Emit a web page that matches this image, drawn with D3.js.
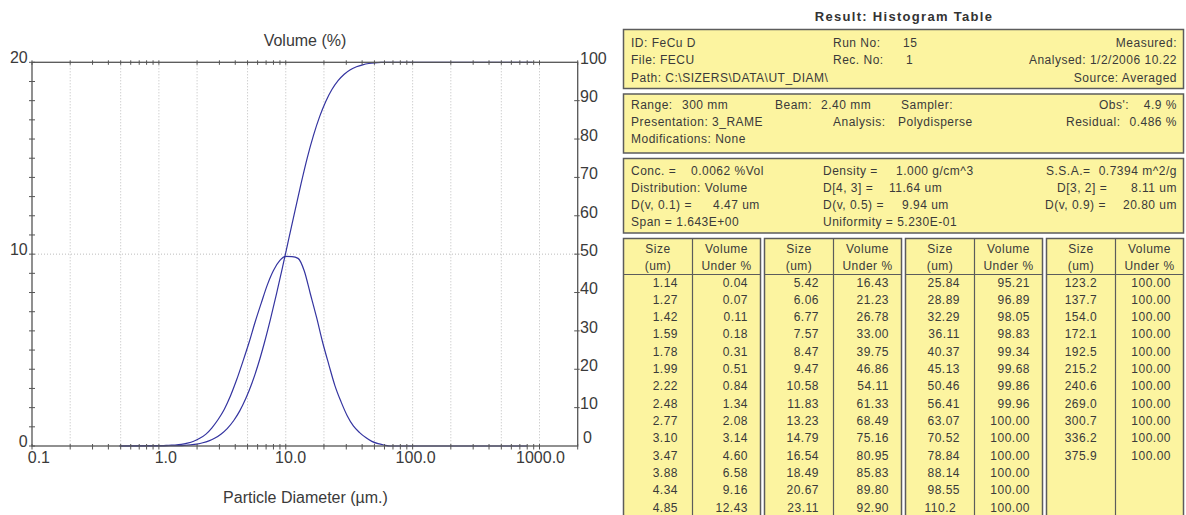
<!DOCTYPE html>
<html>
<head>
<meta charset="utf-8">
<script src="https://cdn.jsdelivr.net/npm/d3@7"></script>
<style>
  body { margin: 0; background: #fff; }
  svg { display: block; }
  text { white-space: pre; }
</style>
</head>
<body>
<script>
/* Particle size distribution + histogram table */

// --- Data ---
// table: size (um) and cumulative volume under %
const sizes = [1.14, 1.27, 1.42, 1.59, 1.78, 1.99, 2.22, 2.48, 2.77, 3.10, 3.47, 3.88, 4.34, 4.85,
  5.42, 6.06, 6.77, 7.57, 8.47, 9.47, 10.58, 11.83, 13.23, 14.79, 16.54, 18.49, 20.67, 23.11,
  25.84, 28.89, 32.29, 36.11, 40.37, 45.13, 50.46, 56.41, 63.07, 70.52, 78.84, 88.14, 98.55, 110.2,
  123.2, 137.7, 154.0, 172.1, 192.5, 215.2, 240.6, 269.0, 300.7, 336.2, 375.9];
const volumeUnder = [0.04, 0.07, 0.11, 0.18, 0.31, 0.51, 0.84, 1.34, 2.08, 3.14, 4.60, 6.58, 9.16, 12.43,
  16.43, 21.23, 26.78, 33.00, 39.75, 46.86, 54.11, 61.33, 68.49, 75.16, 80.95, 85.83, 89.80, 92.90,
  95.21, 96.89, 98.05, 98.83, 99.34, 99.68, 99.86, 99.96, 100, 100, 100, 100, 100, 100,
  100, 100, 100, 100, 100, 100, 100, 100, 100, 100, 100];
// where the plotted cumulative line starts (0 %) and ends (100 %)
const cumEnds = [0.49, 880];

// volume % curve (left axis)
const densitySizes = [0.49, 1.06, 1.20, 1.34, 1.50, 1.68, 1.88, 2.10, 2.35, 2.62, 2.93, 3.28, 3.67, 4.10,
  4.59, 5.13, 5.73, 6.41, 7.16, 8.00, 8.96, 10.0, 11.2, 12.5, 14.0, 15.6, 17.5, 19.5, 21.9, 24.4,
  27.3, 30.5, 34.1, 38.2, 42.7, 47.7, 53.4, 59.6, 66.7, 800];
const densityValues = [0, 0.02, 0.04, 0.05, 0.08, 0.15, 0.25, 0.40, 0.62, 0.95, 1.38, 1.92, 2.62, 3.45,
  4.40, 5.38, 6.45, 7.45, 8.40, 9.15, 9.66, 9.88, 9.87, 9.78, 9.12, 7.95, 6.70, 5.42, 4.22, 3.15,
  2.30, 1.58, 1.05, 0.70, 0.44, 0.24, 0.12, 0.05, 0, 0];

const xLabels = [0.1, 1, 10, 100, 1000];
const xGrid = [0.2, 0.5, 1, 2, 5, 10, 20, 50, 100, 200, 500, 1000];
const leftLabels = [0, 10, 20];
const rightLabels = [0, 10, 20, 30, 40, 50, 60, 70, 80, 90, 100];

// info boxes: [text, x, y, anchor]
const infoBoxes = [
  { y0: 29.5, y1: 88.5, items: [
    ["ID: FeCu D", 631, 46.5], ["Run No:", 833, 46.5], ["15", 903, 46.5], ["Measured:", 1177, 46.5, "end"],
    ["File: FECU", 631, 64], ["Rec. No:", 833, 64], ["1", 906, 64], ["Analysed: 1/2/2006 10.22", 1177, 64, "end"],
    ["Path: C:\\SIZERS\\DATA\\UT_DIAM\\", 631, 81.5], ["Source: Averaged", 1177, 81.5, "end"]] },
  { y0: 94, y1: 153, items: [
    ["Range:", 631, 108.5], ["300 mm", 682, 108.5], ["Beam:", 775, 108.5], ["2.40 mm", 821, 108.5],
    ["Sampler:", 901, 108.5], ["Obs':", 1099, 108.5], ["4.9 %", 1177, 108.5, "end"],
    ["Presentation: 3_RAME", 631, 125.5], ["Analysis:", 833, 125.5], ["Polydisperse", 898, 125.5],
    ["Residual:", 1066, 125.5], ["0.486 %", 1177, 125.5, "end"],
    ["Modifications: None", 631, 143]] },
  { y0: 158.5, y1: 233, items: [
    ["Conc. =", 631, 175], ["0.0062 %Vol", 691, 175], ["Density =", 823, 175], ["1.000 g/cm^3", 896, 175],
    ["S.S.A.=", 1046, 175], ["0.7394 m^2/g", 1177, 175, "end"],
    ["Distribution: Volume", 631, 192], ["D[4, 3] =", 823, 192], ["11.64 um", 889, 192],
    ["D[3, 2] =", 1057, 192], ["8.11 um", 1177, 192, "end"],
    ["D(v, 0.1) =", 631, 209], ["4.47 um", 713, 209], ["D(v, 0.5) =", 823, 209], ["9.94 um", 902, 209],
    ["D(v, 0.9) =", 1045, 209], ["20.80 um", 1177, 209, "end"],
    ["Span = 1.643E+00", 631, 226], ["Uniformity = 5.230E-01", 823, 226]] }
];

// --- Setup ---
const W = 1186, H = 515;
const FONT = "'Liberation Sans', Arial, sans-serif";
const INK = "#3a3a3a";
const svg = d3.select("body").append("svg")
  .attr("width", W).attr("height", H)
  .style("font-family", FONT);
svg.append("rect").attr("width", W).attr("height", H).attr("fill", "#fff");

// --- Chart ---
const plot = { left: 32, top: 62.3, right: 577.7, bottom: 446 };
const x = d3.scaleLog().domain([0.1, 2000]).range([plot.left, plot.right]);
const yL = d3.scaleLinear().domain([0, 20]).range([plot.bottom, plot.top]);
const yR = d3.scaleLinear().domain([0, 100]).range([plot.bottom, plot.top]);

const chart = svg.append("g");

// dotted grid
chart.append("g").selectAll("line").data(xGrid).join("line")
  .attr("x1", (d) => x(d)).attr("x2", (d) => x(d))
  .attr("y1", plot.top).attr("y2", plot.bottom)
  .attr("stroke", "#bcbcbc").attr("stroke-dasharray", "1,2");
chart.append("line")
  .attr("x1", plot.left).attr("x2", plot.right)
  .attr("y1", yL(10)).attr("y2", yL(10))
  .attr("stroke", "#bcbcbc").attr("stroke-dasharray", "1,2");

// curves
const cumData = [[cumEnds[0], 0]].concat(sizes.map((s, i) => [s, volumeUnder[i]]), [[cumEnds[1], 100]]);
const denData = densitySizes.map((s, i) => [s, densityValues[i]]);

const lineR = d3.line().x((d) => x(d[0])).y((d) => yR(d[1])).curve(d3.curveMonotoneX);
const lineL = d3.line().x((d) => x(d[0])).y((d) => yL(d[1])).curve(d3.curveMonotoneX);

chart.append("path").datum(denData).attr("d", lineL)
  .attr("fill", "none").attr("stroke", "#3434a0").attr("stroke-width", 1.2);
chart.append("path").datum(cumData).attr("d", lineR)
  .attr("fill", "none").attr("stroke", "#3434a0").attr("stroke-width", 1.2);

// frame
const AX = "#555";
chart.append("rect")
  .attr("x", plot.left).attr("y", plot.top)
  .attr("width", plot.right - plot.left).attr("height", plot.bottom - plot.top)
  .attr("fill", "none").attr("stroke", AX).attr("stroke-width", 1.3);

// log ticks on top and bottom
const logTicks = x.ticks();
chart.append("g").selectAll("line").data(logTicks).join("line")
  .attr("x1", (d) => x(d)).attr("x2", (d) => x(d))
  .attr("y1", plot.top - 2).attr("y2", plot.top + 2.5)
  .attr("stroke", AX);
chart.append("g").selectAll("line").data(logTicks).join("line")
  .attr("x1", (d) => x(d)).attr("x2", (d) => x(d))
  .attr("y1", plot.bottom - 2).attr("y2", plot.bottom + 3.5)
  .attr("stroke", AX);

// left ticks every unit
chart.append("g").selectAll("line").data(yL.ticks(20)).join("line")
  .attr("x1", plot.left - 3).attr("x2", plot.left + 3)
  .attr("y1", (d) => yL(d)).attr("y2", (d) => yL(d))
  .attr("stroke", AX);

// right ticks every 10
chart.append("g").selectAll("line").data(rightLabels.slice(1, -1)).join("line")
  .attr("x1", plot.right - 3.5).attr("x2", plot.right + 2)
  .attr("y1", (d) => yR(d)).attr("y2", (d) => yR(d))
  .attr("stroke", AX);

// labels
const fmtX = d3.format(".1f");
chart.append("g").selectAll("text").data(xLabels).join("text")
  .attr("x", (d) => x(d) + 18 + (fmtX(d).length - 3) * 2.5)
  .attr("y", 463)
  .attr("text-anchor", "end")
  .attr("font-size", 16).attr("fill", INK)
  .text((d) => fmtX(d));

chart.append("g").selectAll("text").data(leftLabels).join("text")
  .attr("x", 27.7).attr("y", (d) => yL(d) + 0.5)
  .attr("text-anchor", "end")
  .attr("font-size", 16).attr("fill", INK)
  .text((d) => d);

chart.append("g").selectAll("text").data(rightLabels).join("text")
  .attr("x", (d) => d === 0 ? 583 : 580)
  .attr("y", (d) => Math.min(yR(d) + 1.8, 442.7))
  .attr("font-size", 16).attr("fill", INK)
  .text((d) => d);

chart.append("text").attr("x", 305).attr("y", 46)
  .attr("text-anchor", "middle").attr("font-size", 16).attr("fill", INK)
  .text("Volume (%)");
chart.append("text").attr("x", 305.5).attr("y", 503)
  .attr("text-anchor", "middle").attr("font-size", 16).attr("fill", INK)
  .text("Particle Diameter (\u00b5m.)");

// --- Result table ---
const YEL = "#fcf4a0", EDGE = "#5c5c5c";
const tbl = svg.append("g").attr("font-size", 12).attr("letter-spacing", 0.5).attr("fill", INK);

svg.append("text").attr("x", 904).attr("y", 20.5)
  .attr("text-anchor", "middle")
  .attr("font-size", 13).attr("font-weight", "bold").attr("letter-spacing", 1.3)
  .attr("fill", "#333")
  .text("Result: Histogram Table");

const boxL = 623.5, boxR = 1183.5;
infoBoxes.forEach((b) => {
  tbl.append("rect").attr("x", boxL).attr("y", b.y0)
    .attr("width", boxR - boxL).attr("height", b.y1 - b.y0)
    .attr("fill", YEL).attr("stroke", EDGE).attr("stroke-width", 1.5);
  b.items.forEach((it) => {
    tbl.append("text").attr("x", it[1]).attr("y", it[2])
      .attr("text-anchor", it[3] || "start")
      .text(it[0]);
  });
});

// histogram columns: 4 groups of 14 rows
const ROWS = 14, groupW = 137, gap = 4, splitAt = 69;
const gTop = 238.5, headLine = 274.5, row0 = 286.5, rowH = 17.33;
const fmtSize = (v) => v >= 100 ? d3.format(".1f")(v) + " " : d3.format(".2f")(v);
const fmtVol = d3.format(".2f");

d3.range(Math.ceil(sizes.length / ROWS)).forEach((gi) => {
  const gx = boxL + gi * (groupW + gap);
  const mid = gx + splitAt;
  const g = tbl.append("g");
  g.append("rect").attr("x", gx).attr("y", gTop)
    .attr("width", groupW).attr("height", H + 10 - gTop)
    .attr("fill", YEL).attr("stroke", EDGE).attr("stroke-width", 1.5);
  g.append("line").attr("x1", mid).attr("x2", mid).attr("y1", gTop).attr("y2", H + 10)
    .attr("stroke", EDGE).attr("stroke-width", 1.2);
  g.append("line").attr("x1", gx).attr("x2", gx + groupW).attr("y1", headLine).attr("y2", headLine)
    .attr("stroke", EDGE).attr("stroke-width", 1.2);

  const c1 = (gx + mid) / 2, c2 = (mid + gx + groupW) / 2;
  [["Size", c1, 253], ["(um)", c1, 269.5], ["Volume", c2, 253], ["Under %", c2, 269.5]].forEach((h) => {
    g.append("text").attr("x", h[1]).attr("y", h[2]).attr("text-anchor", "middle").text(h[0]);
  });

  const idx = d3.range(gi * ROWS, Math.min((gi + 1) * ROWS, sizes.length));
  g.selectAll("text.size").data(idx).join("text").attr("class", "size")
    .attr("x", mid - 14.5).attr("y", (d, i) => row0 + i * rowH)
    .attr("text-anchor", "end")
    .text((d) => fmtSize(sizes[d]));
  g.selectAll("text.vol").data(idx).join("text").attr("class", "vol")
    .attr("x", gx + groupW - 12.5).attr("y", (d, i) => row0 + i * rowH)
    .attr("text-anchor", "end")
    .text((d) => fmtVol(volumeUnder[d]));
});
</script>
</body>
</html>
